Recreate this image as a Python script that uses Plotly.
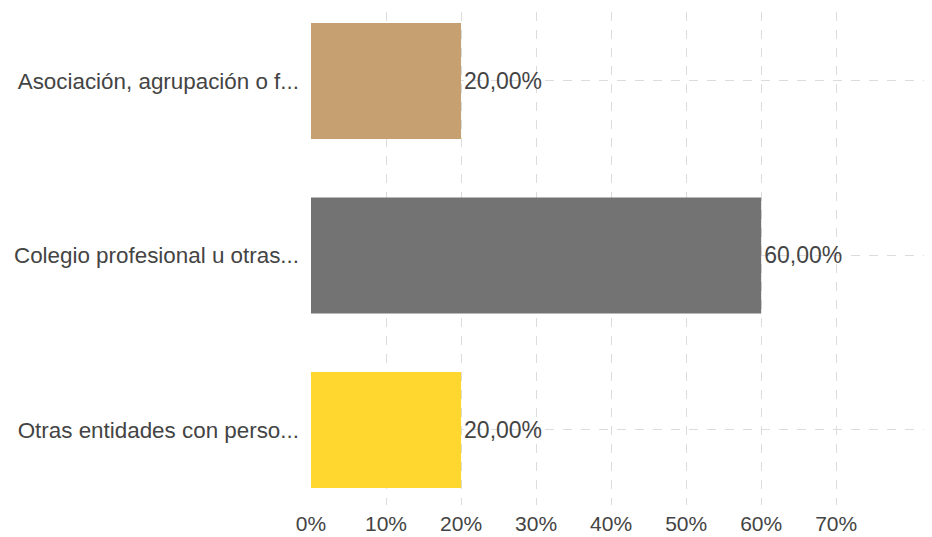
import plotly.graph_objects as go

categories = ["Asociación, agrupación o f...", "Colegio profesional u otras...", "Otras entidades con perso..."]
values = [0.20, 0.60, 0.20]
colors = ["#C6A071", "#737373", "#FFD72E"]
tick_vals = [0, 0.1, 0.2, 0.3, 0.4, 0.5, 0.6, 0.7]

fig = go.Figure(go.Bar(
    y=categories, x=values, orientation="h",
    marker=dict(color=colors, line=dict(width=0)),
    width=0.665,
    texttemplate="%{x:.2%}", textposition="outside", cliponaxis=False,
    textfont=dict(size=23, color="#444444", family="Liberation Sans, Arial, sans-serif"),
))

fig.update_layout(
    width=924, height=529,
    margin=dict(l=303, r=2, t=4, b=32, autoexpand=False),
    paper_bgcolor="white", plot_bgcolor="white",
    separators=",.",
    showlegend=False,
    font=dict(family="Liberation Sans, Arial, sans-serif", color="#444444"),
    xaxis=dict(range=[0, 0.825], tickvals=tick_vals, tickformat=".0%",
               automargin=False,
               showgrid=True, gridcolor="#dcdcdc", griddash="dash", gridwidth=1,
               zeroline=False, showline=False, ticks="", ticklabelstandoff=4,
               tickfont=dict(size=21, color="#444444")),
    yaxis=dict(categoryorder="array", categoryarray=categories,
               range=[2.43, -0.395], automargin=False,
               showgrid=True, gridcolor="#dcdcdc", griddash="dash", gridwidth=1,
               zeroline=False, showline=False, ticks="", ticklabelstandoff=11,
               tickfont=dict(size=22.4, color="#444444")),
)

fig.write_html("out.html")
